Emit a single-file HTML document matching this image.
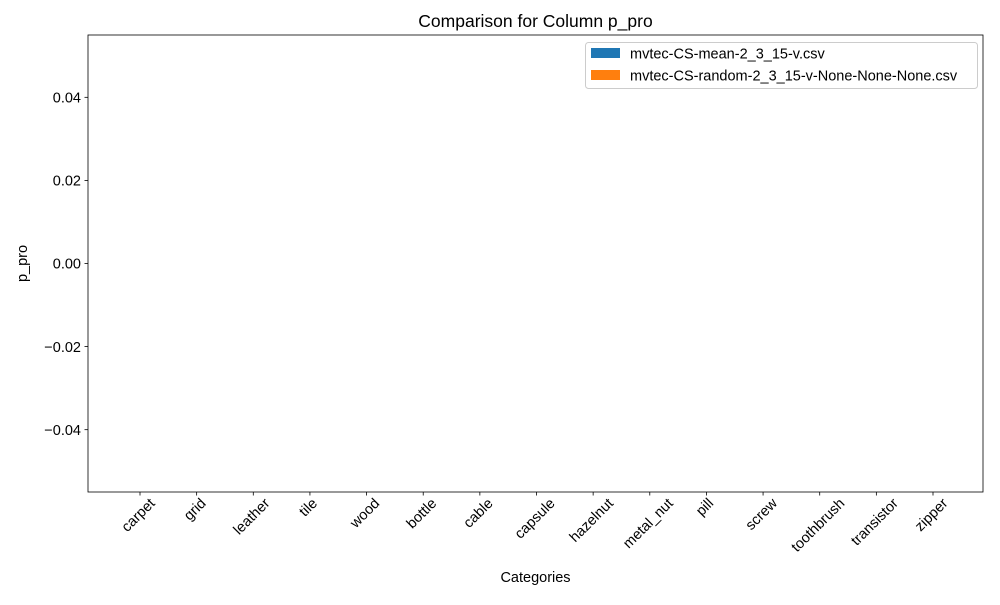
<!DOCTYPE html>
<html><head><meta charset="utf-8"><style>
body{margin:0;background:#fff;}
svg text{font-family:"Liberation Sans","DejaVu Sans",sans-serif;fill:#000;}
</style></head><body>
<svg id="chart" width="1000" height="600" xmlns="http://www.w3.org/2000/svg">
<rect x="0" y="0" width="1000" height="600" fill="#fff"/>
<text x="535.5" y="27" font-size="17.5" text-anchor="middle">Comparison for Column p_pro</text>
<g id="bars"></g>
<rect x="88" y="35" width="895" height="457" fill="none" stroke="#000" stroke-width="0.8"/>
<g id="yaxis"></g>
<g id="xaxis"></g>
<text x="535.5" y="582" font-size="14.5" text-anchor="middle">Categories</text>
<text transform="translate(27,263.5) rotate(-90)" font-size="14.5" text-anchor="middle">p_pro</text>
<g>
<rect x="585.5" y="42.5" width="392" height="46" rx="3" fill="#fff" fill-opacity="0.8" stroke="#ccc" stroke-width="1"/>
<rect x="591" y="48" width="29" height="10" fill="#1f77b4"/>
<text x="630" y="58.5" font-size="14.5">mvtec-CS-mean-2_3_15-v.csv</text>
<rect x="591" y="70" width="29" height="10" fill="#ff7f0e"/>
<text x="630" y="80.5" font-size="14.5">mvtec-CS-random-2_3_15-v-None-None-None.csv</text>
</g>
</svg>
<script>
const categories=["carpet","grid","leather","tile","wood","bottle","cable","capsule","hazelnut","metal_nut","pill","screw","toothbrush","transistor","zipper"];
const seriesA=[0,0,0,0,0,0,0,0,0,0,0,0,0,0,0];
const seriesB=[0,0,0,0,0,0,0,0,0,0,0,0,0,0,0];
const yTicks=[-0.04,-0.02,0,0.02,0.04];
const yTickLabels=["\u22120.04","\u22120.02","0.00","0.02","0.04"];
const NS="http://www.w3.org/2000/svg";
const x0=88,x1=983,yTop=35,yBot=492,yMin=-0.055,yMax=0.055;
const step=(933-140)/14;
function xPos(i){return 140+i*step;}
function yPos(v){return yBot-(v-yMin)/(yMax-yMin)*(yBot-yTop);}
function mk(tag,attrs){const e=document.createElementNS(NS,tag);for(const k in attrs)e.setAttribute(k,attrs[k]);return e;}
const bars=document.getElementById('bars');
const bw=step*0.35;
[seriesA,seriesB].forEach((s,si)=>{
  s.forEach((v,i)=>{
    const cx=xPos(i)+(si===0?-bw/2:bw/2);
    const y=Math.min(yPos(v),yPos(0));
    const r=mk('rect',{x:cx-bw/2,y:y,width:bw,height:Math.abs(yPos(v)-yPos(0)),fill:si===0?'#1f77b4':'#ff7f0e'});
    
    
    bars.appendChild(r);
  });
});
const ya=document.getElementById('yaxis');
yTicks.forEach((t,i)=>{
  const y=yPos(t);
  const l=mk('line',{x1:x0-3.5,x2:x0,y1:y,y2:y,stroke:'#000','stroke-width':0.8});
  
  
  ya.appendChild(l);
  const tx=mk('text',{x:x0-7,y:y+5.2,'font-size':14.5,'text-anchor':'end'});
  
  
  tx.textContent=yTickLabels[i];
  ya.appendChild(tx);
});
const xa=document.getElementById('xaxis');
categories.forEach((c,i)=>{
  const x=xPos(i);
  const l=mk('line',{x1:x,x2:x,y1:yBot,y2:yBot+3.5,stroke:'#000','stroke-width':0.8});
  
  
  xa.appendChild(l);
  const tx=mk('text',{'font-size':14.5,'text-anchor':'middle'});
  
  
  tx.textContent=c;
  xa.appendChild(tx);
  const w=tx.getComputedTextLength();
  const h=13;
  const half=(w+h)*Math.SQRT1_2/2;
  tx.setAttribute('transform','translate('+(x-2)+','+(yBot+4+half)+') rotate(-45) translate(0,5)');
});
</script>
</body></html>
